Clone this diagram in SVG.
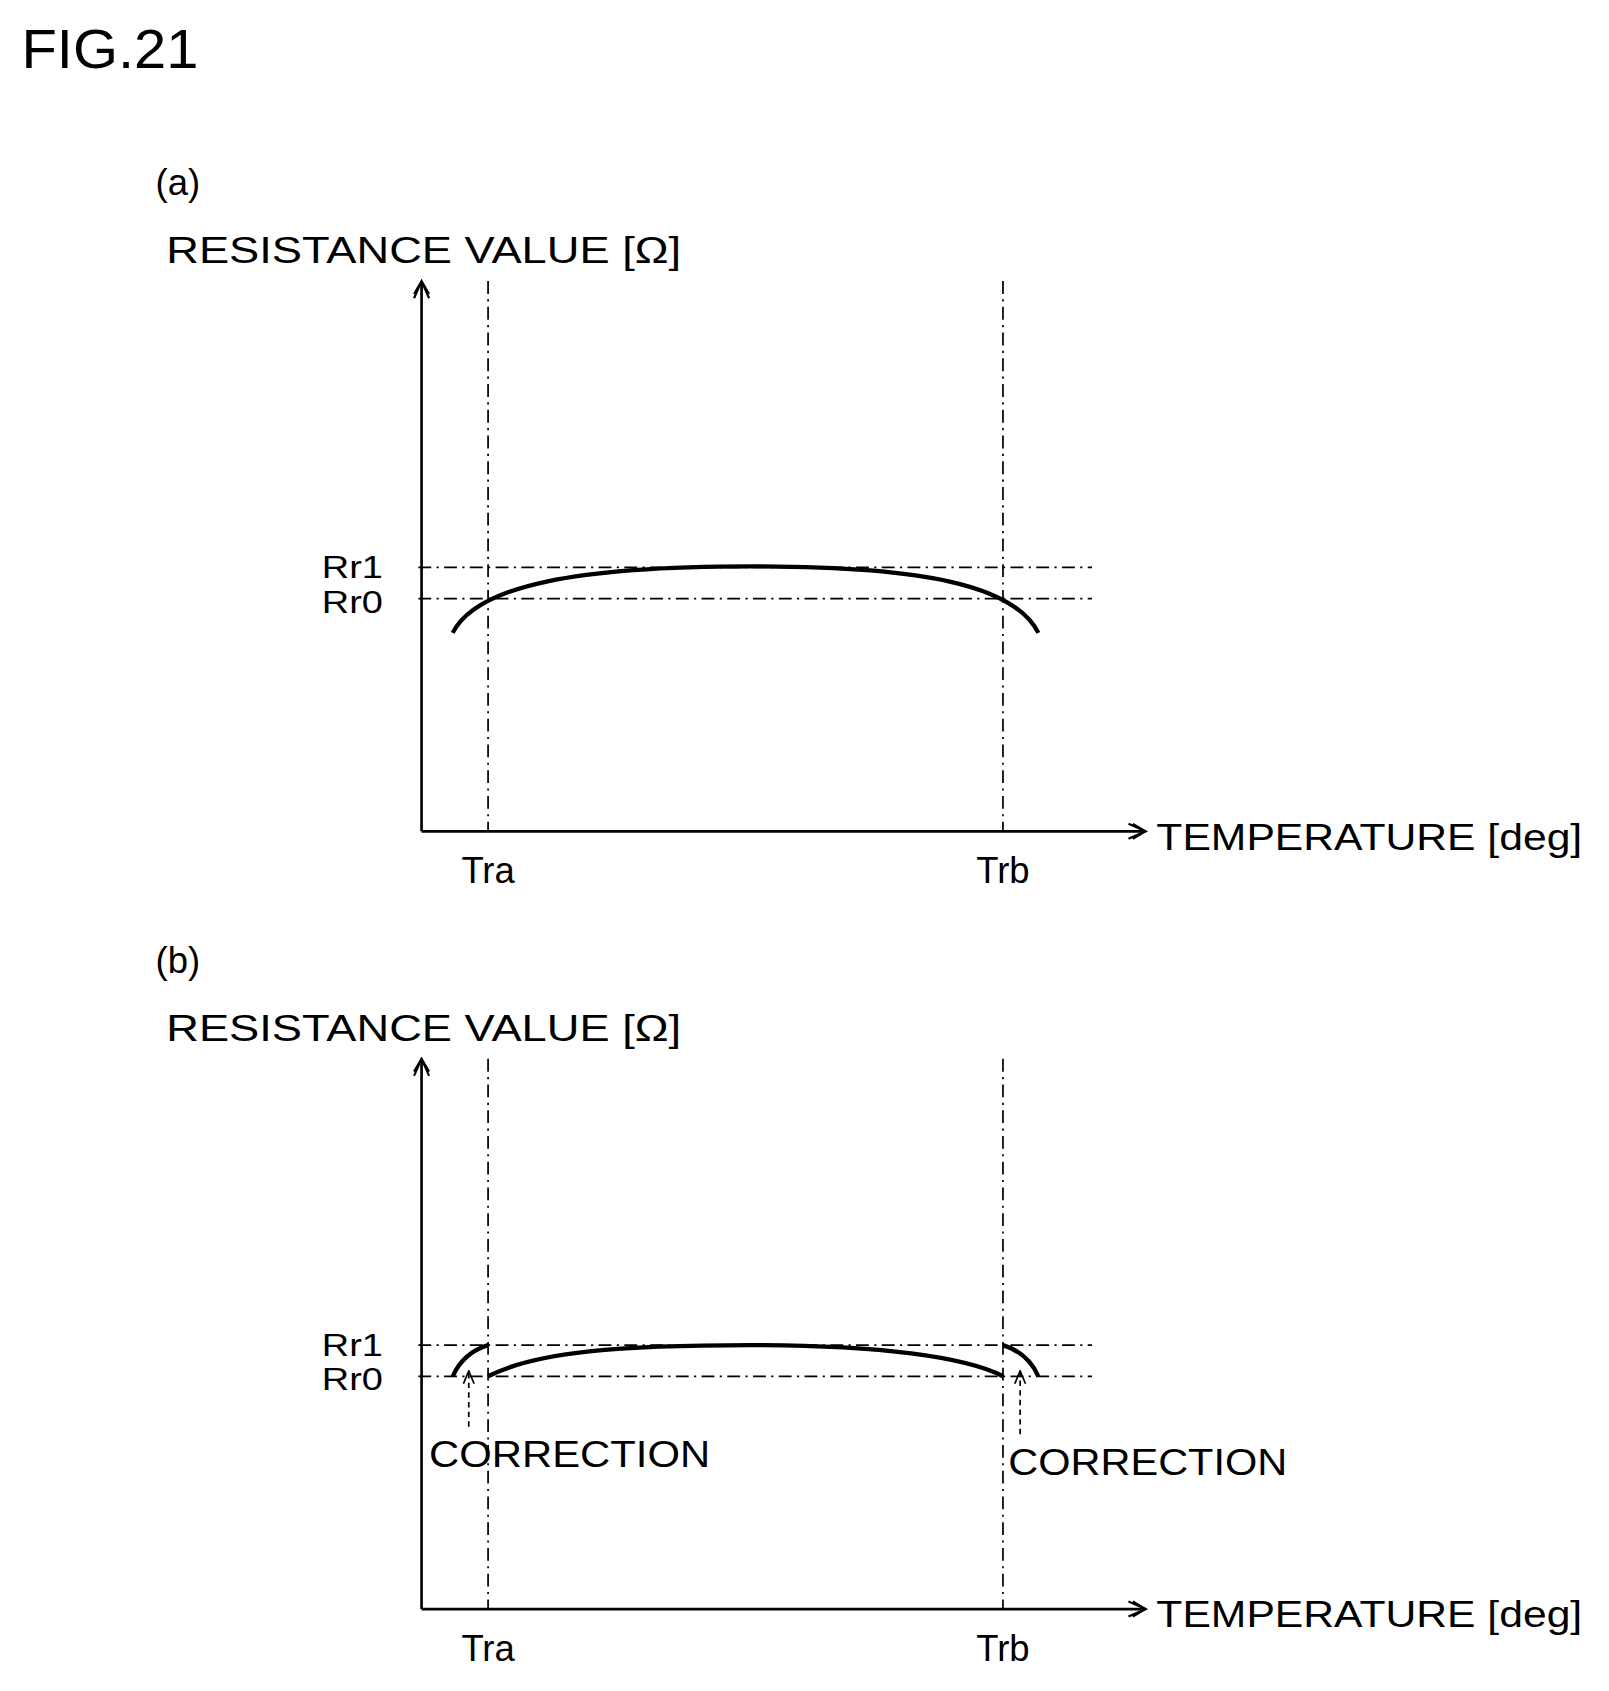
<svg xmlns="http://www.w3.org/2000/svg" width="1609" height="1691" viewBox="0 0 1609 1691">
<style>
text{font-family:"Liberation Sans",Arial,sans-serif;fill:#000}
.ax{stroke:#000;stroke-width:2.5;fill:none}
.dd{stroke:#000;stroke-width:1.6;fill:none;stroke-dasharray:12,5,2,5}
.cv{stroke:#000;stroke-width:4;fill:none}
.cr{stroke:#000;stroke-width:1.6;fill:none;stroke-dasharray:5,4}
.t{font-size:34px}
.r{font-size:30px}
</style>
<defs>
<marker id="ar" viewBox="0 0 20 20" refX="18" refY="10" markerWidth="20" markerHeight="20" markerUnits="userSpaceOnUse" orient="auto"><path d="M2,3 L18,10 L2,17 M6,3 L18,10 L6,17" stroke="#000" stroke-width="2" fill="none"/></marker>
<marker id="ar2" viewBox="0 0 14 14" refX="13" refY="7" markerWidth="14" markerHeight="14" markerUnits="userSpaceOnUse" orient="auto"><path d="M1,2 L13,7 L1,12" stroke="#000" stroke-width="1.6" fill="none"/></marker>
</defs>
<rect width="1609" height="1691" fill="#fff"/>
<g transform="scale(1.0727)">
<text x="20" y="63" font-size="52" textLength="165" lengthAdjust="spacingAndGlyphs">FIG.21</text>
<g id="panel-a">
<text x="145" y="182" class="t">(a)</text>
<text x="155" y="245" class="t" textLength="480" lengthAdjust="spacingAndGlyphs">RESISTANCE VALUE [Ω]</text>
<text x="1078" y="792" class="t" textLength="397" lengthAdjust="spacingAndGlyphs">TEMPERATURE [deg]</text>
<text x="300" y="539" class="r" textLength="57" lengthAdjust="spacingAndGlyphs">Rr1</text>
<text x="300" y="571" class="r" textLength="57" lengthAdjust="spacingAndGlyphs">Rr0</text>
<text x="455" y="823" class="t" text-anchor="middle">Tra</text>
<text x="935" y="823" class="t" text-anchor="middle">Trb</text>
</g>
<g id="connectors-a">
<line class="ax" x1="393" y1="775" x2="393" y2="262" marker-end="url(#ar)"/>
<line class="ax" x1="393" y1="775" x2="1068" y2="775" marker-end="url(#ar)"/>
<line class="dd" x1="455" y1="262" x2="455" y2="775"/>
<line class="dd" x1="935" y1="262" x2="935" y2="775"/>
<line class="dd" x1="390" y1="529" x2="1018" y2="529"/>
<line class="dd" x1="390" y1="558" x2="1018" y2="558"/>
<path class="cv" d="M422,590 C445,545 540,528 700,528 C860,528 945,545 968,590"/>
</g>
<g transform="translate(0,725)">
<g id="panel-b">
<text x="145" y="182" class="t">(b)</text>
<text x="155" y="245" class="t" textLength="480" lengthAdjust="spacingAndGlyphs">RESISTANCE VALUE [Ω]</text>
<text x="1078" y="792" class="t" textLength="397" lengthAdjust="spacingAndGlyphs">TEMPERATURE [deg]</text>
<text x="300" y="539" class="r" textLength="57" lengthAdjust="spacingAndGlyphs">Rr1</text>
<text x="300" y="571" class="r" textLength="57" lengthAdjust="spacingAndGlyphs">Rr0</text>
<text x="455" y="823" class="t" text-anchor="middle">Tra</text>
<text x="935" y="823" class="t" text-anchor="middle">Trb</text>
<text x="400" y="643" class="t" textLength="262" lengthAdjust="spacingAndGlyphs">CORRECTION</text>
<text x="940" y="650" class="t" textLength="260" lengthAdjust="spacingAndGlyphs">CORRECTION</text>
</g>
<g id="connectors-b">
<line class="ax" x1="393" y1="775" x2="393" y2="262" marker-end="url(#ar)"/>
<line class="ax" x1="393" y1="775" x2="1068" y2="775" marker-end="url(#ar)"/>
<line class="dd" x1="455" y1="262" x2="455" y2="775"/>
<line class="dd" x1="935" y1="262" x2="935" y2="775"/>
<line class="dd" x1="390" y1="529" x2="1018" y2="529"/>
<line class="dd" x1="390" y1="558" x2="1018" y2="558"/>
<path class="cv" d="M455,558 C500,535 580,529 700,529 C820,529 900,540 935,558"/>
<path class="cv" d="M422,558 Q432,536 455,529"/>
<path class="cv" d="M935,529 Q958,536 968,558"/>
<line class="cr" x1="437" y1="605" x2="437" y2="553" marker-end="url(#ar2)"/>
<line class="cr" x1="951" y1="612" x2="951" y2="553" marker-end="url(#ar2)"/>
</g>
</g>
</g>
</svg>
